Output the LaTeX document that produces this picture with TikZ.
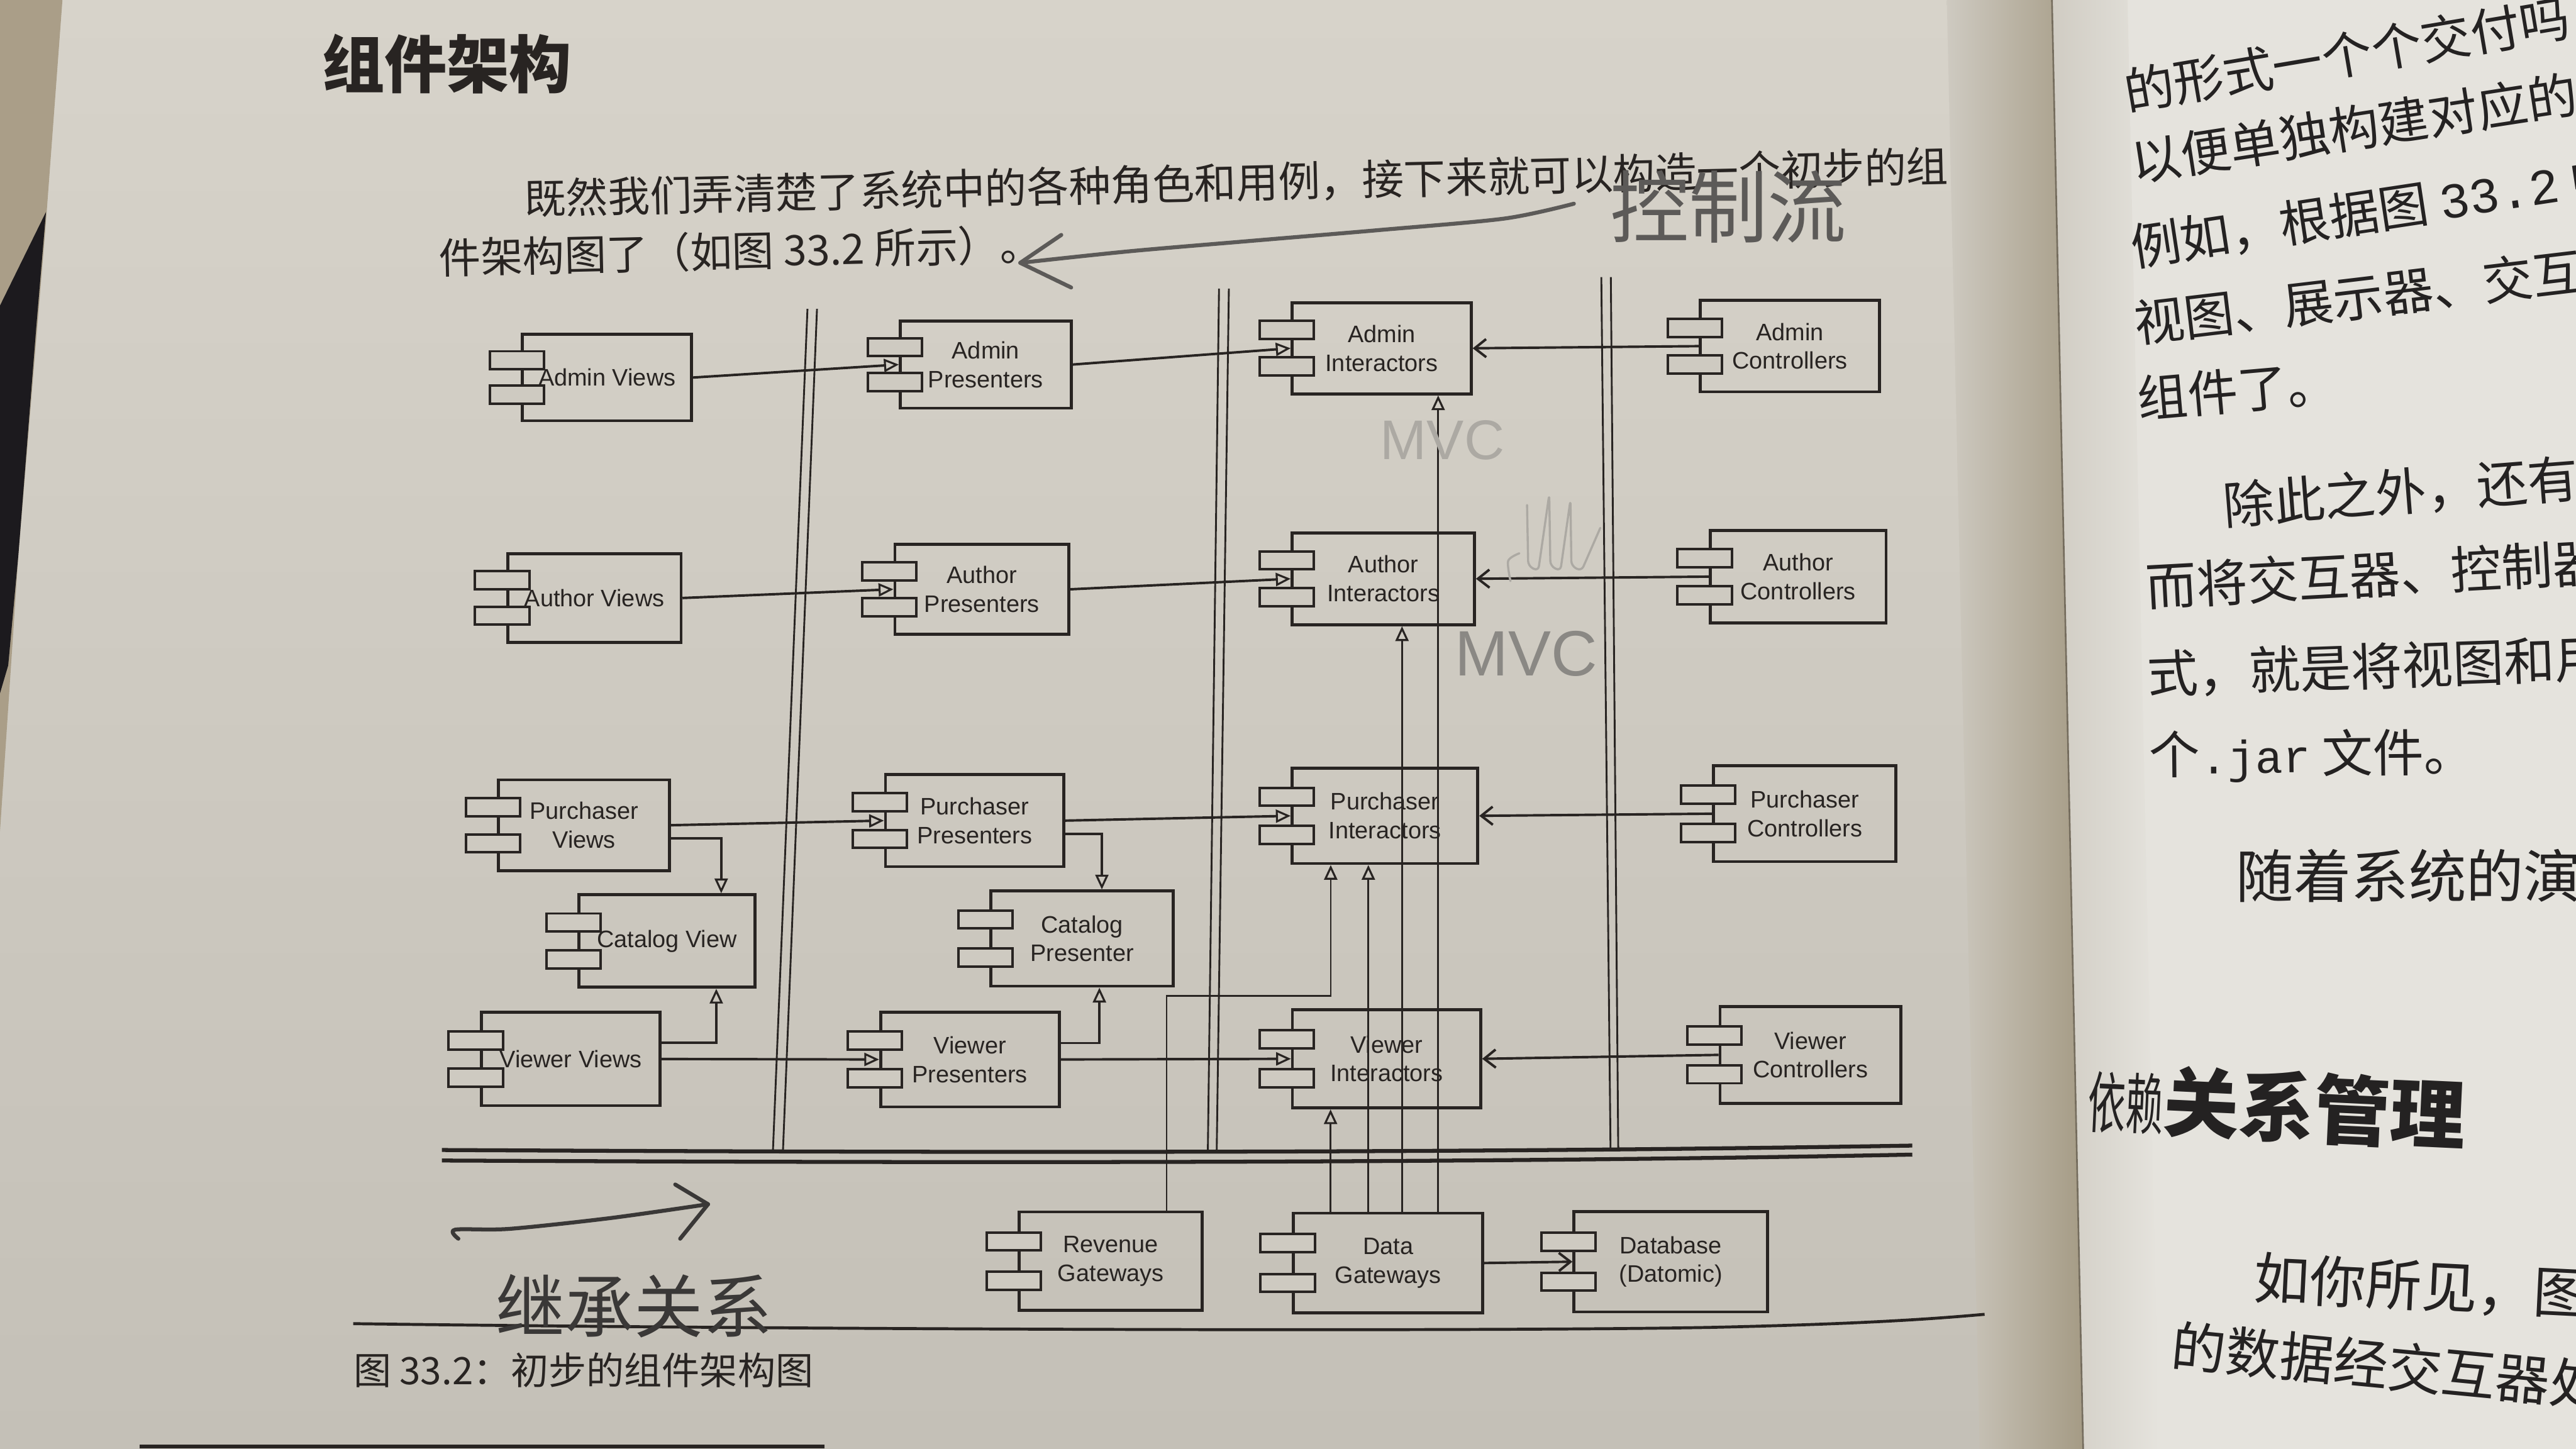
\documentclass[tikz,border=0pt]{standalone}
\usepackage{fontspec}
\usepackage{graphicx}
\setmainfont{Liberation Sans}
\newfontfamily\cjk{Noto Sans CJK SC}
\newfontfamily\monof{Liberation Mono}
\usetikzlibrary{arrows.meta,calc}
\definecolor{ink}{RGB}{40,36,34}
\definecolor{pagetop}{RGB}{215,211,202}
\definecolor{pagebot}{RGB}{196,192,183}
\definecolor{pagec}{RGB}{206,202,193}
\definecolor{gutter}{RGB}{165,155,133}
\definecolor{rpage}{RGB}{229,227,221}
\definecolor{rpagel}{RGB}{208,204,195}
\definecolor{rink}{RGB}{36,34,34}
\definecolor{pen}{RGB}{58,56,55}
\definecolor{pengray}{RGB}{92,90,88}
\definecolor{pencilA}{RGB}{172,169,163}
\definecolor{pencilB}{RGB}{138,136,132}
\definecolor{wedge}{RGB}{170,158,136}
\definecolor{ruler}{RGB}{28,26,30}
\tikzset{
  comp/.style={draw=ink, line width=1.8pt, rectangle, inner sep=0pt, align=center,
    font=\fontsize{14.5}{17.5}\selectfont, text=ink},
  tabbox/.style={draw=ink, line width=1.5pt, fill=pagec},
  conn/.style={draw=ink, line width=1.5pt},
  thinl/.style={draw=ink, line width=1.1pt},
  tri/.style={-{Triangle[open,length=9pt,width=8pt,line width=1.2pt]}},
  vee/.style={-{Straight Barb[length=7pt,width=11pt,line width=1.5pt]}},
  vline/.style={draw=ink, line width=1.1pt},
  dblh/.style={draw=ink, line width=2.4pt},
  ptext/.style={inner sep=0pt, text=ink, font=\cjk\fontsize{25.5}{27}\selectfont},
  rtext/.style={inner sep=0pt, anchor=west, text=rink},
  hand/.style={inner sep=0pt, text=pen},
  pencilst/.style={draw=pencilA, line width=1.3pt, line cap=round, line join=round},
  penline/.style={draw=pen, line width=2.4pt, line cap=round, line join=round}
}
\newcommand\ucomp[6]{%
  \node[comp, minimum width=#4pt, minimum height=#5pt] (#1) at (#2,#3) {#6};
  \draw[tabbox] ($(#1.west)+(-19,{-0.2*#5-5.5})$) rectangle ++(33,11);
  \draw[tabbox] ($(#1.west)+(-19,{0.2*#5-5.5})$) rectangle ++(33,11);
}
\begin{document}
\begin{tikzpicture}[x=1pt,y=-1pt]
\clip (0,0) rectangle (1568,882);
% ---------- background ----------
\shade[top color=pagetop, bottom color=pagebot] (0,0) rectangle (1260,882);
\shade[left color=pagec, right color=gutter] (1185,0) -- (1249,0) -- (1268,882) -- (1205,882) -- cycle;
\fill[rpage] (1249,0) -- (1568,0) -- (1568,882) -- (1268,882) -- cycle;
\shade[left color=rpagel, right color=rpage] (1249,0) -- (1295,0) -- (1314,882) -- (1268,882) -- cycle;
\draw[gutter!70!black, line width=1pt] (1249,0) -- (1268,882);
\fill[wedge] (0,0) -- (38,0) -- (27.6,140) -- (11.2,337.6) -- (0,506) -- cycle;
\fill[ruler] (0,186) -- (28,129) -- (22,200) -- (11.2,337.6) -- (5,405) -- (0,422) -- cycle;
\draw[ink, line width=2.5pt] (85,880.5) -- (502,880.5);

% ---------- left page text ----------
\node[inner sep=0pt, text=ink, font=\cjk\fontsize{38}{40}\selectfont\bfseries] (head) at (272,39) {组件架构};
\node[ptext, anchor=west, rotate=1.3] (para1) at (319,121) {既然我们弄清楚了系统中的各种角色和用例，接下来就可以构造一个初步的组};
\node[ptext, anchor=west, rotate=1.3] (para2) at (267,157) {件架构图了（如图 33.2 所示）。};
\node[inner sep=0pt, anchor=west, text=ink, font=\cjk\fontsize{23}{25}\selectfont] (cap) at (215,834) {图 33.2：初步的组件架构图};
\draw[ink, line width=1.8pt] (215,805.7) .. controls (500,809.5) and (900,810.5) .. (1040,808) .. controls (1130,806) and (1175,803) .. (1208,800);

% ---------- layer lines ----------
\draw[vline] (491.5,188) -- (470.5,700);
\draw[vline] (497.3,188) -- (476.6,700);
\draw[vline] (742,175.7) -- (735.2,700.5);
\draw[vline] (748,175.7) -- (740.6,700.5);
\draw[vline] (974.7,168.7) -- (980.3,699);
\draw[vline] (980.5,168.7) -- (985,699);
\draw[dblh] (269,700) .. controls (600,701.8) and (900,701.8) .. (1164,697.3);
\draw[dblh] (269,706.4) .. controls (600,708) and (900,708) .. (1164,702.8);

% ---------- components ----------
\ucomp{av}{369.5}{229.8}{103}{52.5}{Admin Views}
\ucomp{ap}{600}{221.9}{104}{53}{Admin\\Presenters}
\ucomp{ai}{841}{212}{109}{55.5}{Admin\\Interactors}
\ucomp{ac}{1089.5}{210.7}{109}{55.6}{Admin\\Controllers}
\ucomp{auv}{361.8}{364}{105.5}{54}{Author Views}
\ucomp{aup}{597.7}{358.7}{106}{55}{Author\\Presenters}
\ucomp{aui}{842}{352.3}{111}{56}{Author\\Interactors}
\ucomp{auc}{1094.5}{351}{107}{56.4}{Author\\Controllers}
\ucomp{pv}{355.5}{502.3}{104}{55.3}{Purchaser\\Views}
\ucomp{pp}{593.3}{499.5}{108.7}{56}{Purchaser\\Presenters}
\ucomp{pi}{843}{496.6}{113}{58}{Purchaser\\Interactors}
\ucomp{pc}{1098.5}{495.3}{111}{58.3}{Purchaser\\Controllers}
\ucomp{cv}{406}{572.8}{107}{56.3}{Catalog View}
\ucomp{cp}{658.7}{571.3}{111}{58}{Catalog\\Presenter}
\ucomp{vv}{347.4}{644.6}{108.8}{56.7}{Viewer Views}
\ucomp{vp}{590.4}{644.9}{108.8}{57.7}{Viewer\\Presenters}
\ucomp{vi}{844}{644.5}{114.6}{59.7}{Viewer\\Interactors}
\ucomp{vc}{1102}{642.1}{110}{59}{Viewer\\Controllers}
\ucomp{rg}{676.1}{767.7}{111.4}{60}{Revenue\\Gateways}
\ucomp{dg}{844.9}{768.8}{115.4}{60.8}{Data\\Gateways}
\ucomp{db}{1017}{768}{118}{61}{Database\\(Datomic)}

% ---------- connectors ----------
\draw[conn,tri] (av.east) -- (ap.west);
\draw[conn,tri] (ap.east) -- (ai.west);
\draw[conn,vee] (ac.west) -- (ai.east);
\draw[conn,tri] (auv.east) -- (aup.west);
\draw[conn,tri] (aup.east) -- (aui.west);
\draw[conn,vee] (auc.west) -- (aui.east);
\draw[conn,tri] (pv.east) -- (pp.west);
\draw[conn,tri] (pp.east) -- (pi.west);
\draw[conn,vee] (pc.west) -- (pi.east);
\draw[conn,tri] ($(pv.east)+(0,8)$) -| ($(cv.north)+(33,0)$);
\draw[conn,tri] ($(vv.east)+(0,-10)$) -| ($(cv.south)+(30,0)$);
\draw[conn,tri] ($(pp.east)+(0,8)$) -| ($(cp.north)+(12,0)$);
\draw[conn,tri] ($(vp.east)+(0,-10)$) -| ($(cp.south)+(10.5,0)$);
\draw[conn,tri] (vv.east) -- (vp.west);
\draw[conn,tri] (vp.east) -- (vi.west);
\draw[conn,vee] (vc.west) -- (vi.east);
\draw[conn,vee] (dg.east) -- (db.west);

\coordinate (d1) at ($(dg.north)+(-35,0)$);
\coordinate (d2) at ($(dg.north)+(-12,0)$);
\coordinate (d3) at ($(dg.north)+(8.5,0)$);
\coordinate (d4) at ($(dg.north)+(30.5,0)$);
\draw[thinl,tri] (d1) -- (d1 |- vi.south);
\draw[thinl,tri] (d2) -- (d2 |- pi.south);
\draw[thinl,tri] (d3) -- (d3 |- aui.south);
\draw[thinl,tri] (d4) -- (d4 |- ai.south);
\coordinate (r0) at ($(rg.north)+(34,0)$);
\draw[thinl,tri] (r0) -- ++(0,-130.6) -| ($(pi.south)+(-33,0)$);

% ---------- handwritten notes ----------
\draw[penline, draw=pengray] plot[smooth] coordinates {(958,124) (916,133) (840,140) (757,147) (687,153) (621,160)};
\draw[penline, draw=pengray] (646,143) -- (621,160) -- (652,175);
\node[hand, text=pengray, font=\cjk\fontsize{48}{48}\selectfont] (hw1) at (1052,126) {控制流};
\draw[penline] plot[smooth] coordinates {(279,754) (277,748.5) (310,748) (371,741.5) (431,733)};
\draw[penline] (411,721) -- (431,733) -- (414,754);
\node[hand, font=\cjk\fontsize{42}{42}\selectfont] (hw2) at (386,795) {继承关系};
\node[hand, text=pencilA, font=\fontsize{34}{34}\selectfont] (mvc1) at (878,268) {MVC};
\node[hand, text=pencilB, font=\fontsize{39}{39}\selectfont] (mvc2) at (929,398) {MVC};
\draw[pencilst] plot[smooth] coordinates {(919.4,353.7) (918,341.4) (924.8,336.8)};
\draw[pencilst, rounded corners=3pt] (929.5,307.4) -- (930.2,344.5) -- (936.3,347.6) -- (943,301) -- (943.7,344.5) -- (949.8,347.6) -- (955.9,304.4) -- (956.5,344.5) -- (962.6,347.6) -- (974.1,321.3);

% ---------- right page ----------
\node[rtext, rotate=9.6, font=\cjk\fontsize{30.5}{32}\selectfont] (r1) at (1293,56) {的形式一个个交付吗};
\node[rtext, rotate=8.8, font=\cjk\fontsize{30.5}{32}\selectfont] (r2) at (1297,99) {以便单独构建对应的};
\node[rtext, rotate=8.6, font=\cjk\fontsize{30.5}{32}\selectfont] (r3) at (1297,151) {例如，根据图 {\monof 33.2} 中};
\node[rtext, rotate=6.8, font=\cjk\fontsize{30.5}{32}\selectfont] (r4) at (1299,197) {视图、展示器、交互};
\node[rtext, rotate=5, font=\cjk\fontsize{30.5}{32}\selectfont] (r5) at (1301,243) {组件了。};
\node[rtext, rotate=4.5, font=\cjk\fontsize{31}{33}\selectfont] (r6) at (1353,308) {除此之外，还有};
\node[rtext, rotate=3.1, font=\cjk\fontsize{31}{33}\selectfont] (r7) at (1306,357) {而将交互器、控制器};
\node[rtext, rotate=2, font=\cjk\fontsize{31}{33}\selectfont] (r8) at (1307,410.7) {式，就是将视图和用};
\node[rtext, rotate=0.6, font=\cjk\fontsize{31}{33}\selectfont] (r9) at (1308,461) {个{\monof\fontsize{28}{30}\selectfont .jar} 文件。};
\node[rtext, font=\cjk\fontsize{35}{37}\selectfont] (r10) at (1361,533) {随着系统的演};
\node[rtext, rotate=-2.7, font=\cjk\fontsize{46}{48}\selectfont] (r11) at (1271,668) {\scalebox{0.5}[0.88]{依赖}\bfseries 关系管理};
\node[rtext, rotate=-2.8, font=\cjk\fontsize{34}{36}\selectfont] (r12) at (1372,778) {如你所见，图};
\node[rtext, rotate=-5.5, font=\cjk\fontsize{33}{35}\selectfont] (r13) at (1322,818.5) {的数据经交互器处};
\end{tikzpicture}
\end{document}
